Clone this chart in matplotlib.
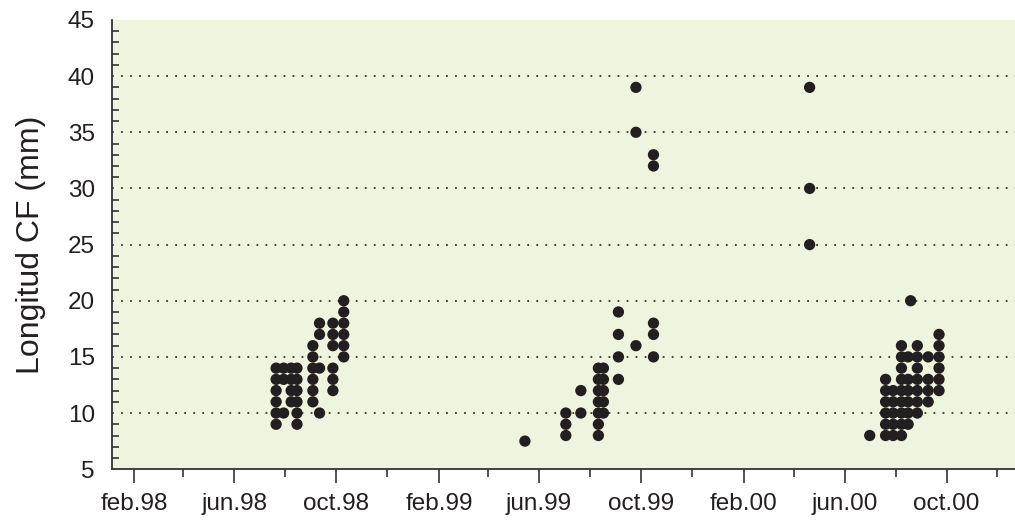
import matplotlib
matplotlib.use("Agg")
import matplotlib.pyplot as plt
import matplotlib.dates as mdates
from matplotlib.ticker import MultipleLocator
import pandas as pd

# fechas de muestreo y longitudes CF (mm) medidas en cada una
fechas = [
    "1998-07-21", "1998-07-30", "1998-08-08", "1998-08-15",
    "1998-09-03", "1998-09-11", "1998-09-27", "1998-10-10",
    "1999-05-15", "1999-07-03", "1999-07-21", "1999-08-11",
    "1999-08-17", "1999-09-04", "1999-09-25", "1999-10-16",
    "2000-04-20",
    "2000-07-01", "2000-07-20", "2000-07-29", "2000-08-08",
    "2000-08-16", "2000-08-19", "2000-08-27", "2000-09-09", "2000-09-22",
]
longitudes = [
    [9, 10, 11, 12, 13, 14], [10, 13, 14], [11, 12, 13, 14], [9, 10, 11, 12, 13, 14],
    [11, 12, 13, 14, 15, 16], [10, 14, 17, 18], [12, 13, 14, 16, 17, 18], [15, 16, 17, 18, 19, 20],
    [7.5], [8, 9, 10], [10, 12], [8, 9, 10, 11, 12, 13, 14],
    [10, 11, 12, 13, 14], [13, 15, 17, 19], [16, 35, 39], [15, 17, 18, 32, 33],
    [25, 30, 39],
    [8], [8, 9, 10, 11, 12, 13], [8, 9, 10, 11, 12], [8, 9, 10, 11, 12, 13, 14, 15, 16],
    [9, 10, 11, 12, 13, 15], [20], [10, 11, 12, 13, 14, 15, 16], [11, 12, 13, 15], [12, 13, 14, 15, 16, 17],
]

x = []
y = []
for f, vals in zip(fechas, longitudes):
    for v in vals:
        x.append(pd.Timestamp(f))
        y.append(v)

plt.rcParams['font.family'] = ['Liberation Sans', 'DejaVu Sans']

fig = plt.figure(figsize=(10.15, 5.26), dpi=100)
ax = fig.add_axes([0.110, 0.108, 0.890, 0.854])
ax.set_facecolor('#eff4de')

for yy in range(10, 45, 5):
    ax.axhline(yy, color='#333333', lw=1.3, ls=(0, (1, 4)), zorder=1)

ax.scatter(x, y, s=66, color='#231f20', edgecolors='none', zorder=3)

ax.set_xlim(pd.Timestamp("1998-01-05"), pd.Timestamp("2000-12-22"))
ax.set_ylim(5, 45)

ax.xaxis.set_major_locator(mdates.MonthLocator(bymonth=[2, 6, 10]))
ax.xaxis.set_minor_locator(mdates.MonthLocator(bymonth=[4, 8, 12]))
ax.xaxis.set_major_formatter(
    plt.FuncFormatter(lambda v, p: {2: 'feb', 6: 'jun', 10: 'oct'}[mdates.num2date(v).month]
                      + '.' + mdates.num2date(v).strftime('%y')))
ax.yaxis.set_major_locator(MultipleLocator(5))
ax.yaxis.set_minor_locator(MultipleLocator(1))

ax.tick_params(axis='x', which='major', direction='out', length=10, width=1.2,
               color='#333333', labelsize=17.5, pad=7, labelcolor='#231f20')
ax.tick_params(axis='x', which='minor', direction='out', length=6, width=1.2, color='#333333')
ax.tick_params(axis='y', which='major', direction='in', length=0, labelsize=17.5,
               pad=12, labelcolor='#231f20')
ax.tick_params(axis='y', which='minor', direction='in', length=5, width=1.2, color='#333333')

for s in ['top', 'right']:
    ax.spines[s].set_visible(False)
for s in ['left', 'bottom']:
    ax.spines[s].set_color('#333333')
    ax.spines[s].set_linewidth(1.3)

ax.set_ylabel('Longitud CF (mm)', fontsize=23, color='#231f20', labelpad=16)

fig.savefig('out.png', dpi=100)
